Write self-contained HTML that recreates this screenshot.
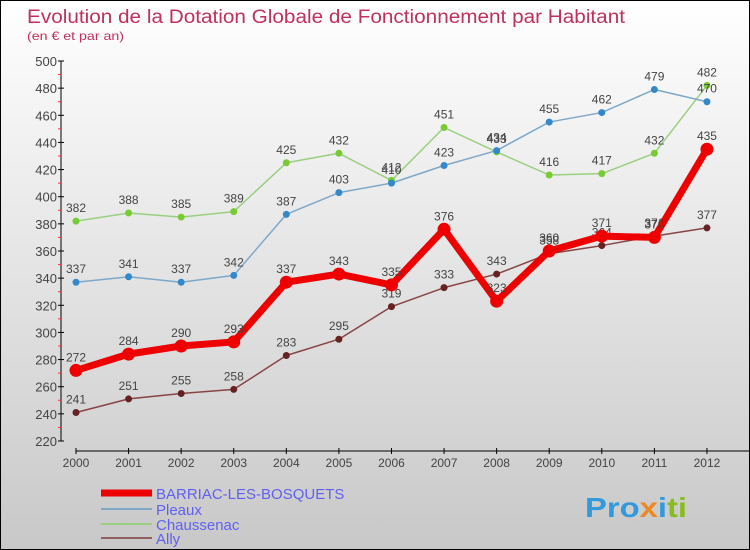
<!DOCTYPE html>
<html><head><meta charset="utf-8"><style>
body{margin:0;}
#c{position:relative;width:748px;height:548px;border:1px solid #000;background:linear-gradient(#fff,#c8c8c8);font-family:"Liberation Sans",sans-serif;overflow:hidden}
</style></head><body>
<div id="c">
<svg width="748" height="548" id="svg" style="position:absolute;left:0;top:0">
<text x="26" y="22" font-size="19" fill="#c0305a" textLength="598" lengthAdjust="spacingAndGlyphs">Evolution de la Dotation Globale de Fonctionnement par Habitant</text>
<text x="26" y="39" font-size="12" fill="#c0305a" textLength="97" lengthAdjust="spacingAndGlyphs">(en € et par an)</text>
<g id="axes"></g><g id="series"></g>
<g>
<line x1="100" y1="492" x2="151" y2="492" stroke="#e00" stroke-width="7"/>
<text x="155" y="498" font-size="15" fill="#6060f0">BARRIAC-LES-BOSQUETS</text>
<line x1="100" y1="508" x2="151" y2="508" stroke="#7ea8c8" stroke-width="2"/>
<text x="155" y="514" font-size="15" fill="#6060f0">Pleaux</text>
<line x1="100" y1="523" x2="151" y2="523" stroke="#99d080" stroke-width="2"/>
<text x="155" y="529" font-size="15" fill="#6060f0">Chaussenac</text>
<line x1="100" y1="537" x2="151" y2="537" stroke="#906060" stroke-width="2"/>
<text x="155" y="543" font-size="15" fill="#6060f0">Ally</text>
</g>
<text x="584" y="516" font-size="28" font-weight="bold" fill="#3399dd" textLength="102" lengthAdjust="spacingAndGlyphs">Pro<tspan fill="#ee8822">x</tspan>i<tspan fill="#88bb22">ti</tspan></text>
</svg>
</div>
<script>
const years=["2000","2001","2002","2003","2004","2005","2006","2007","2008","2009","2010","2011","2012"];
const yTicks=[220,240,260,280,300,320,340,360,380,400,420,440,460,480,500];
const barriac=[272,284,290,293,337,343,335,376,323,360,371,370,435];
const pleaux=[337,341,337,342,387,403,410,423,434,455,462,479,470];
const chaussenac=[382,388,385,389,425,432,412,451,433,416,417,432,482];
const ally=[241,251,255,258,283,295,319,333,343,358,364,371,377];
const NS="http://www.w3.org/2000/svg";
const X=i=>75+i*52.58;
const Y=v=>440-(v-220)*380/280;
function mk(t,a,p){const e=document.createElementNS(NS,t);for(const k in a)e.setAttribute(k,a[k]);p.appendChild(e);return e;}
const ax=document.getElementById('axes'),sg=document.getElementById('series');
const ya=mk('line',{x1:60,y1:60,x2:60,y2:440,stroke:'#000'},ax);


const xa=mk('line',{x1:75,y1:450,x2:748,y2:450,stroke:'#000'},ax);


yTicks.forEach((v,i)=>{
 mk('line',{x1:57,y1:Y(v),x2:63,y2:Y(v),stroke:'#000'},ax);
 if(i<yTicks.length-1) mk('line',{x1:57,y1:Y(v+10),x2:60,y2:Y(v+10),stroke:'#f33'},ax);
 const t=mk('text',{x:56,y:Y(v)+5,'text-anchor':'end','font-size':13,fill:'#444'},ax);
 t.textContent=v;
 
 
});
years.forEach((y,i)=>{
 mk('line',{x1:X(i),y1:447,x2:X(i),y2:453,stroke:'#000'},ax);
 const t=mk('text',{x:X(i),y:466,'text-anchor':'middle','font-size':12,fill:'#444'},ax);
 t.textContent=y;
 
 
});
function series(d,col,w,r,dot,name){
 const g=mk('g',{},sg);
 
 
 mk('polyline',{points:d.map((v,i)=>X(i)+','+Y(v)).join(' '),fill:'none',stroke:col,'stroke-width':w,'stroke-linejoin':'round'},g);
 d.forEach((v,i)=>{
  const c=mk('circle',{cx:X(i),cy:Y(v),r:r,fill:dot},g);
  
  
  const t=mk('text',{x:X(i),y:Y(v)-9,'text-anchor':'middle','font-size':12,fill:'#444'},g);
  t.textContent=v;
  
  
 });
}
series(chaussenac,'#99d080',1.5,3.5,'#77cc33','chaussenac-series');
series(pleaux,'#7ea8c8',1.5,3.5,'#3388cc','pleaux-series');
series(ally,'#884444',1.5,3.5,'#662222','ally-series');
series(barriac,'#ee0000',7,6.5,'#ee0000','barriac-series');
</script>
</body></html>
